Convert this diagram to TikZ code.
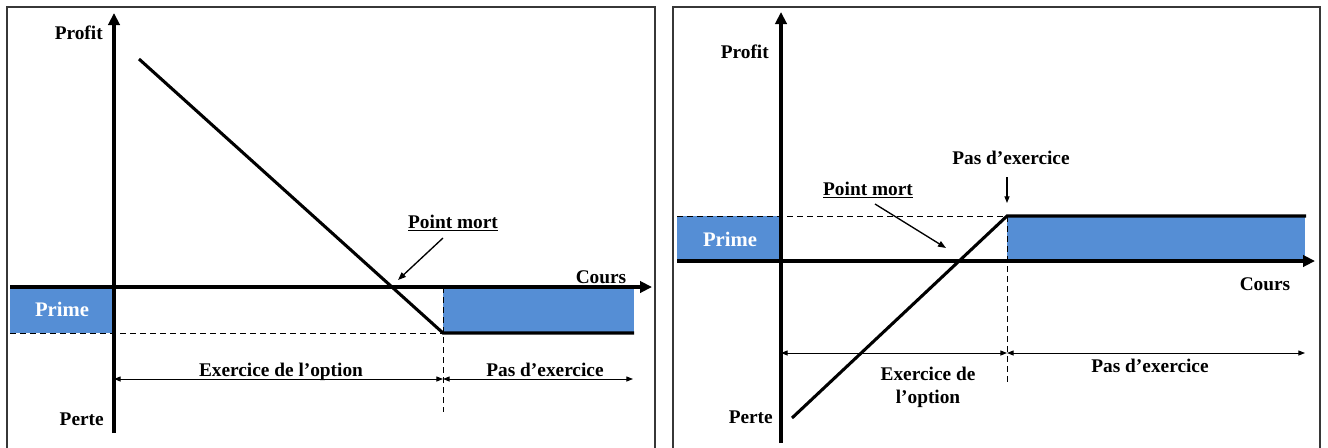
\documentclass[tikz,border=0pt]{standalone}
\usepackage{fontspec}
\setmainfont{Liberation Serif}
\usetikzlibrary{arrows.meta}
\definecolor{primeblue}{RGB}{85,142,213}
\definecolor{framegray}{RGB}{55,55,55}
\begin{document}
\begin{tikzpicture}[x=0.75pt,y=-0.75pt,
  frameline/.style={draw=framegray,line width=0.8pt},
  axis/.style={line width=2.4pt,-{Triangle[length=9pt,width=8.5pt]}},
  payoff/.style={line width=2.3pt},
  bluebox/.style={fill=primeblue,draw=none},
  dimline/.style={line width=0.7pt,{Triangle[length=5pt,width=3.8pt]}-{Triangle[length=5pt,width=3.8pt]}},
  guide/.style={line width=0.7pt,dash pattern=on 4.5pt off 3pt},
  pointer/.style={line width=1pt,-{Triangle[length=6pt,width=4.5pt]}},
  lbl/.style={font=\fontsize{14.5}{17}\selectfont\bfseries,inner sep=0pt},
  primelbl/.style={font=\fontsize{15.5}{18}\selectfont\bfseries,text=white,inner sep=0pt}
]
\useasboundingbox (0,0) rectangle (1328,447);

% ================= LEFT PANEL =================
\draw[frameline] (7,452) -- (7,7) -- (655,7) -- (655,452);

\coordinate (O1) at (114,287);
\coordinate (Y1top) at (114,13);
\coordinate (Y1bot) at (114,433);
\coordinate (X1left) at (10,287);
\coordinate (X1right) at (652,287);
\coordinate (S1) at (139,59);
\coordinate (K1) at (443,333);
\coordinate (E1) at (634,333);
\coordinate (P1left) at (10,333);
\coordinate (K1top) at (443,287);
\coordinate (K1bot) at (443,412);
\coordinate (D1a) at (114,379);
\coordinate (D1b) at (443,379);
\coordinate (D1c) at (633,379);

\fill[bluebox] (X1left) rectangle (114,333);
\fill[bluebox] (K1top) rectangle (E1);

\draw[guide] (P1left) -- (K1);
\draw[guide] (K1top) -- (K1bot);

\draw[axis] (Y1bot) -- (Y1top);
\draw[axis] (X1left) -- (X1right);

\draw[payoff] (S1) -- (K1) -- (E1);

\draw[dimline] (D1a) -- (D1b);
\draw[dimline] (D1b) -- (D1c);

\node[lbl,anchor=base east] (profit1) at (103,39) {Profit};
\node[lbl,anchor=base east] (perte1) at (104,425) {Perte};
\node[primelbl,anchor=base] (prime1) at (62,316) {Prime};
\node[lbl,anchor=base] (cours1) at (601,283) {Cours};
\node[lbl,anchor=base] (exo1) at (281,376) {Exercice de l’option};
\node[lbl,anchor=base] (pasexo1) at (545,376) {Pas d’exercice};
\node[lbl,anchor=base] (pm1) at (453,228) {\underline{Point mort}};
\coordinate (pm1start) at (443,238);
\coordinate (pm1tip) at (398,280);
\draw[pointer] (pm1start) -- (pm1tip);

% ================= RIGHT PANEL =================
\draw[frameline] (673,452) -- (673,7) -- (1320,7) -- (1320,452);

\coordinate (O2) at (781,261);
\coordinate (Y2top) at (781,12);
\coordinate (Y2bot) at (781,443);
\coordinate (X2left) at (677,261);
\coordinate (X2right) at (1315,261);
\coordinate (S2) at (792,418);
\coordinate (K2) at (1007,216);
\coordinate (E2) at (1306,216);
\coordinate (P2left) at (677,216);
\coordinate (K2bot) at (1007,385);
\coordinate (K2base) at (1007,261);
\coordinate (D2a) at (781,353);
\coordinate (D2b) at (1007,353);
\coordinate (D2c) at (1305,353);

\fill[bluebox] (P2left) rectangle (O2);
\fill[bluebox] (K2) rectangle (1305,261);

\draw[guide] (P2left) -- (K2);
\draw[guide] (K2) -- (K2bot);

\draw[axis] (Y2bot) -- (Y2top);
\draw[axis] (X2left) -- (X2right);

\draw[payoff] (S2) -- (K2) -- (E2);

\draw[dimline] (D2a) -- (D2b);
\draw[dimline] (D2b) -- (D2c);

\node[lbl,anchor=base east] (profit2) at (769,58) {Profit};
\node[lbl,anchor=base east] (perte2) at (773,423) {Perte};
\node[primelbl,anchor=base] (prime2) at (730,246) {Prime};
\node[lbl,anchor=base] (cours2) at (1265,290) {Cours};
\node[lbl,anchor=base] (exo2a) at (928,380) {Exercice de};
\node[lbl,anchor=base] (exo2b) at (928,403) {l’option};
\node[lbl,anchor=base] (pasexo2) at (1150,372) {Pas d’exercice};
\node[lbl,anchor=base] (strike2) at (1011,164) {Pas d’exercice};
\coordinate (strike2start) at (1007,177);
\coordinate (strike2tip) at (1007,203);
\draw[pointer,line width=0.8pt,-{Triangle[length=5pt,width=3.8pt]}] (strike2start) -- (strike2tip);
\node[lbl,anchor=base] (pm2) at (868,195) {\underline{Point mort}};
\coordinate (pm2start) at (875,204);
\coordinate (pm2tip) at (946,248);
\draw[pointer] (pm2start) -- (pm2tip);
\end{tikzpicture}
\end{document}
